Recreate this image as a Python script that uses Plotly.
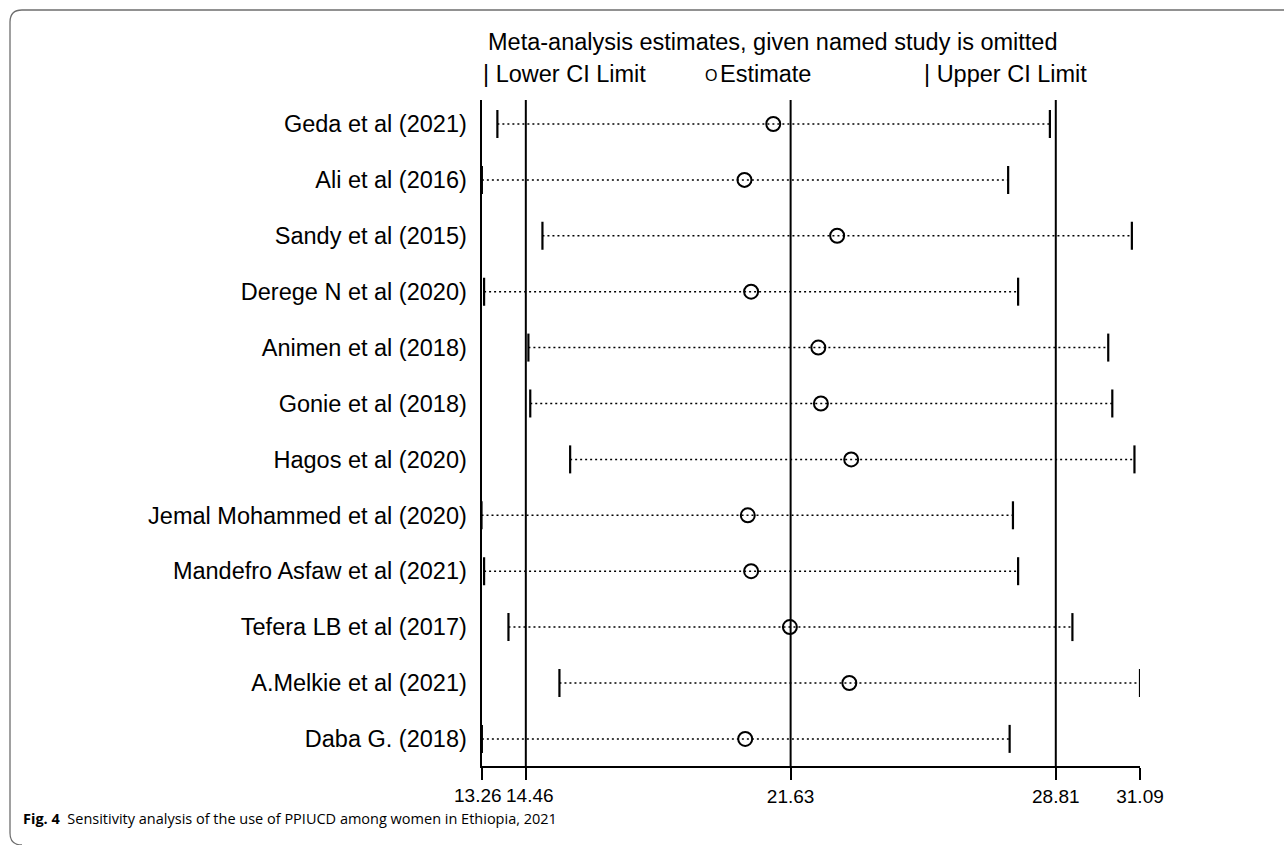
import plotly.graph_objects as go

# ---- data ----
studies = [
    "Geda et al (2021)", "Ali et al (2016)", "Sandy et al (2015)", "Derege N et al (2020)",
    "Animen et al (2018)", "Gonie et al (2018)", "Hagos et al (2020)",
    "Jemal Mohammed et al (2020)", "Mandefro Asfaw et al (2021)", "Tefera LB et al (2017)",
    "A.Melkie et al (2021)", "Daba G. (2018)",
]
estimate = [21.16, 20.38, 22.89, 20.56, 22.38, 22.45, 23.27, 20.47, 20.56, 21.61, 23.22, 20.40]
lower_ci = [13.69, 13.27, 14.91, 13.33, 14.53, 14.58, 15.66, 13.26, 13.33, 13.99, 15.37, 13.27]
upper_ci = [28.65, 27.52, 30.87, 27.79, 30.23, 30.34, 30.94, 27.65, 27.79, 29.26, 31.09, 27.56]
# overall estimate and its CI (reference lines) and axis tick values
overall = [14.46, 21.63, 28.81]
x_ticks = [13.26, 14.46, 21.63, 28.81, 31.09]
x_tick_labels = ["13.26", "14.46", "21.63", "28.81", "31.09"]

W, H = 1284, 845
def px(x):
    return x / W
def py(y):
    return 1 - y / H

rows = list(range(len(studies)))

fig = go.Figure()

# dotted CI lines
lx, ly = [], []
for r, lo, hi in zip(rows, lower_ci, upper_ci):
    lx += [lo, hi, None]
    ly += [r, r, None]
fig.add_trace(go.Scatter(x=lx, y=ly, mode="lines",
                         line=dict(color="black", width=1.5, dash="2px,3px"),
                         hoverinfo="skip", showlegend=False))
# lower / upper ticks
fig.add_trace(go.Scatter(x=lower_ci, y=rows, mode="markers",
                         marker=dict(symbol="line-ns", size=20, line=dict(color="black", width=2.2)),
                         showlegend=False, name="Lower CI Limit"))
fig.add_trace(go.Scatter(x=upper_ci, y=rows, mode="markers",
                         marker=dict(symbol="line-ns", size=20, line=dict(color="black", width=2.2)),
                         showlegend=False, name="Upper CI Limit"))
# estimates
fig.add_trace(go.Scatter(x=estimate, y=rows, mode="markers",
                         marker=dict(symbol="circle-open", size=14, color="black",
                                     line=dict(color="black", width=2)),
                         showlegend=False, name="Estimate"))

# reference vertical lines
for v in overall:
    fig.add_shape(type="line", xref="x", yref="y domain", x0=v, x1=v, y0=0, y1=1,
                  line=dict(color="black", width=2), layer="above")

# figure frame (journal style, rounded corners at left)
frame = (f"M {px(1300)},{py(10)} L {px(22)},{py(10)} Q {px(10)},{py(10)} {px(10)},{py(22)} "
         f"L {px(10)},{py(833)} Q {px(10)},{py(845)} {px(22)},{py(845)}")
fig.add_shape(type="path", xref="paper", yref="paper", path=frame,
              line=dict(color="#6e6e6e", width=1.3))

font_main = "Liberation Sans, Arial, sans-serif"
ann = [
    dict(x=px(486), y=py(42), text="Meta-analysis estimates, given named study is omitted",
         xanchor="left", font=dict(size=23.5)),
    dict(x=px(481), y=py(74), text="| Lower CI Limit", xanchor="left", font=dict(size=23.5)),
    dict(x=px(711), y=py(75), text="O", xanchor="center", font=dict(size=16)),
    dict(x=px(718), y=py(74), text="Estimate", xanchor="left", font=dict(size=23.5)),
    dict(x=px(922), y=py(74), text="| Upper CI Limit", xanchor="left", font=dict(size=23.5)),
    dict(x=px(21), y=py(818),
         text="<b>Fig. 4</b>  Sensitivity analysis of the use of PPIUCD among women in Ethiopia, 2021",
         xanchor="left", font=dict(size=14.5, family="Open Sans, sans-serif")),
]
for a in ann:
    a.update(xref="paper", yref="paper", showarrow=False, yanchor="middle")
    a["font"].setdefault("family", font_main)
    a["font"]["color"] = "black"
    fig.add_annotation(**a)

# the two crowded tick labels at the left end sit side by side, as in the reference
axis_labels = list(x_tick_labels)
for i, (anchor, shift) in enumerate([("right", 22), ("left", -22)]):
    fig.add_annotation(x=x_ticks[i], xref="x", y=py(795), yref="paper",
                       text=x_tick_labels[i], showarrow=False,
                       xanchor=anchor, xshift=shift, yanchor="middle",
                       font=dict(size=19, family=font_main, color="black"))
    axis_labels[i] = ""

fig.update_layout(
    width=W, height=H,
    margin=dict(l=0, r=0, t=0, b=0),
    paper_bgcolor="white", plot_bgcolor="white",
    font=dict(family=font_main, color="black"),
    xaxis=dict(domain=[px(481.5), px(1140)], range=[13.26, 31.09],
               tickvals=x_ticks, ticktext=axis_labels, tickangle=0,
               showline=True, linecolor="black", linewidth=2,
               ticks="outside", ticklen=12, tickwidth=2, tickcolor="black",
               tickfont=dict(size=19), showgrid=False, zeroline=False, automargin=False),
    yaxis=dict(domain=[py(766), py(100)], range=[11.485, -0.429],
               tickvals=rows, ticktext=studies,
               showline=True, linecolor="black", linewidth=2,
               ticks="", ticklabelstandoff=8,
               tickfont=dict(size=23.5), showgrid=False, zeroline=False, automargin=False),
)

fig.write_html("out.html", config={"displayModeBar": False},
               post_script="document.body.style.margin='0';document.body.style.overflow='hidden';")
